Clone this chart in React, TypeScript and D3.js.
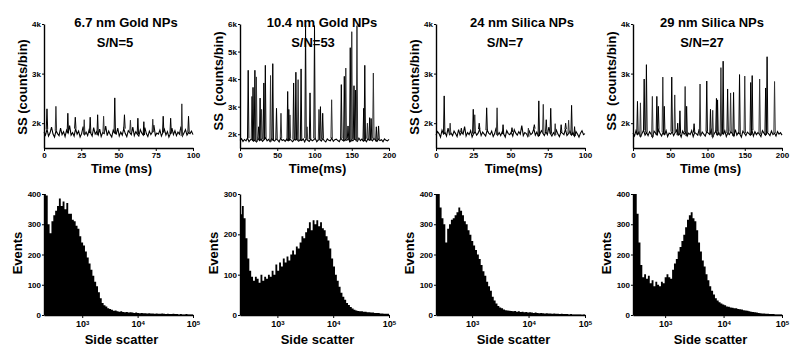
import React, { useRef, useEffect } from "react";
import * as d3 from "d3";

// ---- top row: side-scatter time traces (values in k counts/bin) ----
// baseline noise, sampled evenly across each run
const noiseGold67 = [
  1.82, 1.76, 1.88, 1.74, 1.8, 1.92, 1.78, 1.72, 1.85, 1.79,
  1.75, 1.9, 1.77, 1.83, 1.73, 1.86, 1.8, 1.95, 1.76, 1.81,
  1.74, 1.89, 1.78, 1.84, 1.72, 1.79, 1.93, 1.77, 1.82, 1.75,
  1.87, 1.8, 1.74, 1.91, 1.78, 1.83, 1.76, 1.88, 1.73, 1.81,
  1.79, 1.94, 1.75, 1.84, 1.77, 1.72, 1.86, 1.8, 1.78, 1.9,
  1.74, 1.82, 1.76, 1.89, 1.79, 1.73, 1.85, 1.81, 1.77, 1.92,
  1.75, 1.83, 1.78, 1.74, 1.87, 1.8, 1.76, 1.91, 1.79, 1.73,
  1.84, 1.77, 1.82, 1.96, 1.75, 1.8, 1.78, 1.86, 1.74, 1.81,
  1.88, 1.76, 1.83, 1.72, 1.79, 1.9, 1.77, 1.85, 1.75, 1.82,
  1.78, 1.93, 1.74, 1.8, 1.87, 1.76, 1.81, 1.79, 1.84, 1.77,
];
const noiseGold104 = [
  1.78, 1.84, 1.74, 1.81, 1.76, 1.86, 1.73, 1.8, 1.83, 1.75,
  1.79, 1.72, 1.85, 1.77, 1.82, 1.74, 1.8, 1.87, 1.76, 1.81,
  1.73, 1.84, 1.78, 1.75, 1.83, 1.79, 1.72, 1.86, 1.77, 1.8,
  1.74, 1.82, 1.76, 1.85, 1.78, 1.73, 1.81, 1.79, 1.84, 1.75,
  1.8, 1.77, 1.83, 1.72, 1.86, 1.78, 1.74, 1.82, 1.76, 1.8,
  1.85, 1.73, 1.79, 1.81, 1.75, 1.84, 1.77, 1.72, 1.83, 1.78,
  1.76, 1.86, 1.74, 1.8, 1.82, 1.77, 1.73, 1.85, 1.79, 1.75,
  1.81, 1.78, 1.84, 1.72, 1.8, 1.76, 1.83, 1.79, 1.74, 1.86,
  1.77, 1.82, 1.75, 1.8, 1.73, 1.84, 1.78, 1.81, 1.76, 1.85,
  1.79, 1.74, 1.82, 1.77, 1.8, 1.73, 1.83, 1.78, 1.76, 1.81,
];
const noiseSilica24 = [
  1.76, 1.83, 1.79, 1.72, 1.86, 1.78, 1.81, 1.74, 1.9, 1.77,
  1.8, 1.75, 1.84, 1.79, 1.73, 1.87, 1.76, 1.82, 1.78, 1.93,
  1.74, 1.81, 1.77, 1.85, 1.72, 1.79, 1.83, 1.76, 1.8, 1.88,
  1.75, 1.82, 1.78, 1.74, 1.86, 1.8, 1.77, 1.84, 1.73, 1.79,
  1.91, 1.76, 1.81, 1.75, 1.83, 1.78, 1.72, 1.85, 1.79, 1.77,
  1.82, 1.74, 1.87, 1.8, 1.76, 1.83, 1.78, 1.95, 1.75, 1.81,
  1.79, 1.73, 1.84, 1.77, 1.8, 1.89, 1.76, 1.82, 1.74, 1.78,
  1.85, 1.8, 1.75, 1.83, 1.77, 1.92, 1.79, 1.74, 1.81, 1.76,
  1.86, 1.78, 1.73, 1.82, 1.8, 1.77, 1.88, 1.75, 1.79, 1.84,
  1.76, 1.81, 1.74, 1.83, 1.78, 1.72, 1.8, 1.85, 1.77, 1.79,
];
const noiseSilica29 = [
  1.8, 1.74, 1.85, 1.77, 1.82, 1.73, 1.79, 1.86, 1.76, 1.81,
  1.75, 1.83, 1.78, 1.72, 1.84, 1.8, 1.76, 1.87, 1.79, 1.74,
  1.82, 1.77, 1.85, 1.73, 1.8, 1.78, 1.83, 1.75, 1.81, 1.86,
  1.76, 1.79, 1.72, 1.84, 1.78, 1.82, 1.74, 1.8, 1.77, 1.85,
  1.73, 1.81, 1.79, 1.76, 1.88, 1.75, 1.82, 1.78, 1.74, 1.83,
  1.8, 1.77, 1.86, 1.72, 1.79, 1.84, 1.76, 1.81, 1.75, 1.82,
  1.78, 1.85, 1.73, 1.8, 1.77, 1.83, 1.79, 1.74, 1.87, 1.76,
  1.81, 1.78, 1.72, 1.84, 1.8, 1.75, 1.82, 1.79, 1.76, 1.86,
  1.74, 1.83, 1.77, 1.81, 1.78, 1.73, 1.85, 1.8, 1.76, 1.82,
  1.79, 1.75, 1.84, 1.77, 1.8, 1.74, 1.83, 1.78, 1.81, 1.76,
];

// particle bursts: time (ms) and peak height (k)
const spikeTimeGold67 = [2, 8, 16, 21, 27, 31, 36, 40, 47.5, 54, 58, 63, 67, 73, 80, 85, 92.5, 97];
const spikeValGold67 = [2.29, 2.34, 2.2, 2.12, 2.07, 2.12, 2.17, 2.14, 2.51, 2.17, 2.06, 2.1, 2.03, 2.08, 2.14, 2.1, 2.39, 2.14];

const spikeTimeGold104 = [
  11, 16, 17.5, 20, 22, 25, 27, 29, 32, 34, 41, 44, 49, 55, 64, 65.5, 67, 72, 75, 78, 82, 88,
  90, 94, 100, 106, 108, 111, 123, 136, 140, 142, 145, 148, 150, 153, 155, 157, 166, 167.5,
  171, 174, 176, 179, 183, 186,
];
const spikeValGold104 = [
  4.32, 3.37, 3.7, 4.32, 4.08, 2.27, 3.31, 2.9, 3.86, 4.5, 4.13, 4.56, 2.94, 2.76, 3.55, 2.9,
  2.7, 3.86, 4.25, 3.98, 4.37, 5.94, 2.27, 3.5, 5.94, 2.9, 3.0, 2.76, 3.25, 3.8, 4.1, 4.4, 2.3,
  5.14, 5.72, 3.76, 3.6, 5.94, 2.94, 4.5, 2.4, 2.6, 2.57, 4.22, 2.27, 2.3,
];

const spikeTimeSilica24 = [5.5, 9.5, 17, 25, 26, 29, 34, 41, 45, 51, 62, 66, 69, 72, 74, 77, 80, 84, 87, 89, 91, 93];
const spikeValSilica24 = [2.55, 2.0, 1.9, 2.28, 2.17, 2.0, 2.31, 2.31, 1.97, 1.91, 1.9, 1.97, 2.45, 2.38, 2.07, 2.3, 1.99, 1.97, 2.0, 2.06, 2.36, 1.93];

const spikeTimeSilica29 = [
  6, 10, 15, 18, 26, 32, 34, 40, 42, 52, 56, 60, 63, 70, 72, 82, 90, 99, 104, 107, 112, 113.5,
  118, 121, 127, 131, 135, 143, 150, 158, 160, 170, 178, 180, 190,
];
const spikeValSilica29 = [
  2.44, 2.41, 2.89, 3.18, 2.54, 2.54, 2.34, 2.93, 2.34, 2.93, 2.57, 2.0, 2.25, 2.74, 2.34, 1.99,
  2.79, 2.85, 2.28, 2.26, 2.5, 2.47, 3.12, 3.25, 2.69, 2.61, 2.62, 2.98, 2.95, 2.82, 2.96, 2.89,
  2.71, 3.34, 2.84,
];

// ---- bottom row: side-scatter histograms (events per log-spaced bin) ----
const histGold67 = [
  400, 395, 300, 270, 310, 330, 345, 360, 385, 360,
  375, 350, 370, 335, 335, 315, 310, 295, 285, 260,
  240, 230, 210, 190, 170, 150, 130, 110, 95, 75,
  55, 40, 32, 28, 22, 20, 17, 14, 15, 12,
  11, 12, 10, 9, 10, 8, 9, 8, 7, 8,
  7, 6, 7, 6, 6, 5, 6, 5, 5, 4,
  5, 4, 4, 5, 4, 3, 4, 3, 3, 4,
  3, 3, 2, 3, 2, 2, 3, 2, 2, 2,
];
const histGold104 = [
  250, 270, 240, 190, 140, 110, 95, 85, 95, 90,
  80, 100, 85, 95, 90, 100, 95, 110, 100, 125,
  110, 130, 120, 140, 130, 145, 135, 150, 160, 150,
  170, 165, 180, 195, 190, 205, 215, 230, 210, 235,
  225, 235, 220, 230, 215, 210, 195, 185, 165, 140,
  120, 100, 85, 70, 55, 45, 38, 30, 25, 20,
  16, 13, 11, 10, 9, 9, 8, 8, 7, 7,
  6, 6, 5, 5, 5, 4, 4, 3, 3, 3,
];
const histSilica24 = [
  400, 400, 355, 320, 300, 240, 285, 300, 315, 320,
  330, 340, 355, 345, 330, 310, 300, 280, 265, 245,
  230, 215, 200, 185, 165, 145, 130, 110, 95, 80,
  60, 48, 38, 30, 25, 22, 18, 16, 15, 14,
  13, 12, 13, 11, 12, 10, 11, 9, 10, 8,
  9, 8, 7, 8, 7, 6, 7, 6, 5, 6,
  5, 5, 4, 5, 4, 4, 3, 4, 3, 3,
  3, 2, 3, 2, 2, 2, 2, 2, 1, 2,
];
const histSilica29 = [
  400, 400, 335, 240, 165, 125, 135, 120, 130, 105,
  115, 95, 110, 100, 95, 110, 105, 125, 135, 125,
  120, 150, 170, 185, 210, 225, 245, 265, 290, 315,
  330, 340, 320, 310, 280, 240, 210, 180, 160, 135,
  115, 95, 80, 68, 55, 48, 42, 38, 35, 32,
  28, 27, 25, 24, 22, 22, 20, 19, 18, 16,
  15, 14, 12, 11, 10, 9, 8, 7, 6, 5,
  5, 4, 4, 3, 3, 3, 2, 2, 2, 2,
];

const titles = ["6.7 nm Gold NPs", "10.4 nm Gold NPs", "24 nm Silica NPs", "29 nm Silica NPs"];
const snLabels = ["S/N=5", "S/N=53", "S/N=7", "S/N=27"];
const traceLabels = ["SS (counts/bin)", "SS  (counts/bin)", "SS (counts/bin)", "SS  (counts/bin)"];
const timeLabels = ["Time (ms)", "Time(ms)", "Time(ms)", "Time (ms)"];
const traceDurations = [100, 200, 100, 200];
const traceYMax = [4, 6, 4, 4];
const traceXTicks = [
  [0, 25, 50, 75, 100],
  [0, 50, 100, 150, 200],
  [0, 25, 50, 75, 100],
  [0, 50, 100, 150, 200],
];
const traceYTicks = [[2, 3, 4], [2, 3, 4, 5, 6], [2, 3, 4], [2, 3, 4]];
const histYMax = [400, 300, 400, 400];
const histYTicks = [
  [0, 100, 200, 300, 400],
  [0, 100, 200, 300],
  [0, 100, 200, 300, 400],
  [0, 100, 200, 300, 400],
];
const histLogMin = [2.31, 2.33, 2.36, 2.45];
const histXTicks = [1e3, 1e4, 1e5];

const noises = [noiseGold67, noiseGold104, noiseSilica24, noiseSilica29];
const spikeTimes = [spikeTimeGold67, spikeTimeGold104, spikeTimeSilica24, spikeTimeSilica29];
const spikeVals = [spikeValGold67, spikeValGold104, spikeValSilica24, spikeValSilica29];
const hists = [histGold67, histGold104, histSilica24, histSilica29];

const FONT = "'Liberation Sans', Arial, sans-serif";

export default function App() {
  const svgRef = useRef<SVGSVGElement>(null);

  useEffect(() => {
    if (!svgRef.current) return;
    const width = 800;
    const height = 358;
    const svg = d3.select(svgRef.current).attr("width", width).attr("height", height);
    svg.selectAll("*").remove();
    svg.append("rect").attr("width", width).attr("height", height).attr("fill", "#fff");

    const axisLeftX = [44, 240, 436, 633];
    const plotW = 149;
    const titleX = [126, 322, 522, 712];
    const snX = [115, 313, 505, 702];

    const styleAxis = (g: d3.Selection<SVGGElement, unknown, null, undefined>, size: number) => {
      g.select(".domain").attr("stroke", "#000").attr("stroke-width", 1.4);
      g.selectAll(".tick line").attr("stroke", "#000").attr("stroke-width", 1);
      g.selectAll(".tick text")
        .attr("font-family", FONT)
        .attr("font-weight", "bold")
        .attr("font-size", size)
        .attr("fill", "#000");
    };

    const txt = (sel: d3.Selection<SVGTextElement, unknown, null, undefined>, size: number) =>
      sel
        .attr("font-family", FONT)
        .attr("font-weight", "bold")
        .attr("font-size", size)
        .attr("fill", "#000")
        .attr("text-anchor", "middle")
        .style("white-space", "pre");

    for (let p = 0; p < 4; p++) {
      const left = axisLeftX[p];

      // ---------- time trace ----------
      const x = d3.scaleLinear().domain([0, traceDurations[p]]).range([left, left + plotW]);
      const y = d3.scaleLinear().domain([1.5, traceYMax[p]]).range([148, 24]);

      const noise = noises[p];
      const step = traceDurations[p] / (noise.length - 1);
      const pts: [number, number][] = noise.map((v, i) => [i * step, v] as [number, number]);

      const line = d3
        .line<[number, number]>()
        .x((d) => x(d[0]))
        .y((d) => y(d[1]));
      svg
        .append("path")
        .datum(pts)
        .attr("d", line)
        .attr("fill", "none")
        .attr("stroke", "#000")
        .attr("stroke-width", 1.1);

      // each burst is a narrow spike rising from the local baseline
      const spikes = spikeTimes[p].map((t, j) => ({
        t,
        v: spikeVals[p][j],
        base: noise[Math.min(noise.length - 1, Math.round(t / step))],
      }));
      svg
        .append("g")
        .selectAll("path")
        .data(spikes)
        .join("path")
        .attr("d", (d) => {
          const cx = x(d.t);
          const yb = y(d.base);
          return `M${cx - 0.7},${yb}L${cx},${y(d.v)}L${cx + 0.7},${yb}`;
        })
        .attr("fill", "none")
        .attr("stroke", (d, i) => (i % 3 === 1 ? "#333" : "#000"))
        .attr("stroke-width", 1);

      const gx = svg
        .append("g")
        .attr("transform", "translate(0,148)")
        .call(d3.axisBottom(x).tickValues(traceXTicks[p]).tickSize(3).tickSizeOuter(0).tickPadding(1));
      styleAxis(gx, 8);
      const gy = svg
        .append("g")
        .attr("transform", `translate(${left},0)`)
        .call(
          d3
            .axisLeft(y)
            .tickValues(traceYTicks[p])
            .tickSize(2)
            .tickSizeOuter(0)
            .tickPadding(1)
            .tickFormat((d) => `${d}k`)
        );
      styleAxis(gy, 8);

      txt(svg.append("text").attr("x", titleX[p]).attr("y", 27).text(titles[p]), 13);
      txt(svg.append("text").attr("x", snX[p]).attr("y", 47).text(snLabels[p]), 13);
      txt(
        svg.append("text").attr("x", (left + left + plotW) / 2 + 3).attr("y", 173).text(timeLabels[p]),
        13
      );
      txt(
        svg
          .append("text")
          .attr("transform", `translate(${left - 17.5},${p % 2 === 0 ? 87 : 81}) rotate(-90)`)
          .text(traceLabels[p]),
        13
      );

      // ---------- histogram ----------
      const logMin = histLogMin[p];
      const hx = d3.scaleLog().domain([Math.pow(10, logMin), 1e5]).range([left, left + plotW]);
      const hy = d3.scaleLinear().domain([0, histYMax[p]]).range([315, 194]);
      const counts = hists[p];
      const n = counts.length;
      const edgeAt = (i: number) => Math.pow(10, logMin + ((5 - logMin) * i) / n);
      const steps: [number, number][] = counts.map((c, i) => [edgeAt(i), Math.min(c, histYMax[p])] as [number, number]);
      steps.push([edgeAt(n), Math.min(counts[n - 1], histYMax[p])]);

      const area = d3
        .area<[number, number]>()
        .curve(d3.curveStepAfter)
        .x((d) => hx(d[0]))
        .y0(hy(0))
        .y1((d) => hy(d[1]));
      svg.append("path").datum(steps).attr("d", area).attr("fill", "#000").attr("stroke", "none");

      const hgx = svg
        .append("g")
        .attr("transform", "translate(0,315)")
        .call(d3.axisBottom(hx).tickValues(histXTicks).tickSize(3).tickSizeOuter(0).tickPadding(3).tickFormat(() => ""));
      styleAxis(hgx, 9);
      hgx.selectAll<SVGTextElement, number>(".tick text").each(function (d) {
        const t = d3.select(this);
        t.text("10");
        t.append("tspan")
          .attr("dy", "-0.45em")
          .attr("font-size", 6)
          .text(String(Math.round(Math.log10(d))));
      });

      const hgy = svg
        .append("g")
        .attr("transform", `translate(${left},0)`)
        .call(d3.axisLeft(hy).tickValues(histYTicks[p]).tickSize(2).tickSizeOuter(0).tickPadding(1));
      styleAxis(hgy, 8);

      txt(svg.append("text").attr("x", (left + left + plotW) / 2 + 3).attr("y", 344).text("Side scatter"), 13);
      txt(
        svg.append("text").attr("transform", `translate(${left - 22},253) rotate(-90)`).text("Events"),
        13
      );
    }
  }, []);

  return (
    <svg
      ref={svgRef}
      style={{ position: "absolute", left: 0, top: 0, display: "block" }}
    />
  );
}
